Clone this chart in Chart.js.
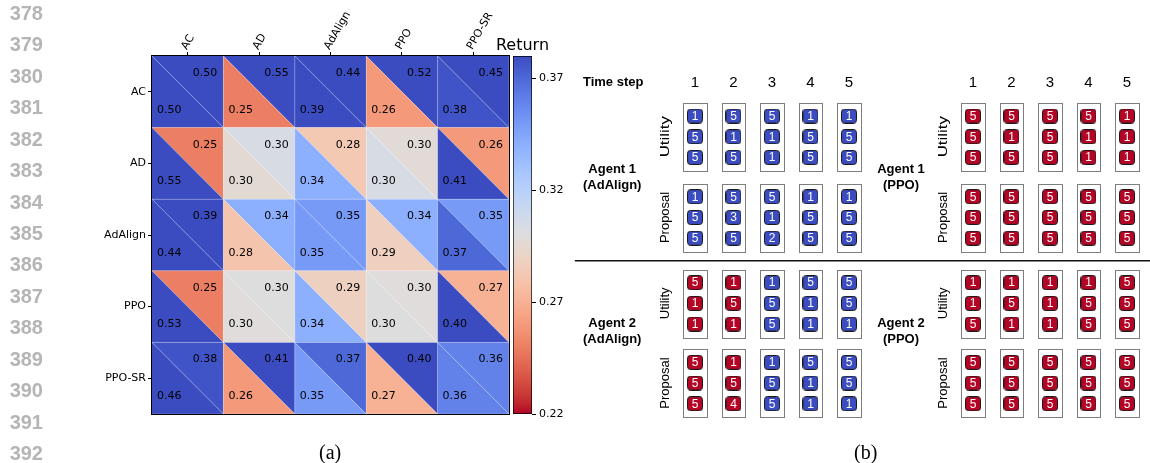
<!DOCTYPE html>
<html>
<head>
<meta charset="utf-8">
<title>Pairwise returns and negotiation rollouts</title>
<script src="https://cdn.jsdelivr.net/npm/chart.js@4.4.1/dist/chart.umd.min.js"></script>
<style>
  html, body { margin: 0; padding: 0; background: #fff; }
  body { position: relative; width: 1150px; height: 463px; overflow: hidden; }
  canvas { position: absolute; top: 0; }
  #heat { left: 0; }
  #bar { left: 470px; }
  #game { left: 560px; }
  .lineno { position: absolute; left: 0; width: 43px; text-align: right; font: bold 20px "Liberation Sans", Arial, sans-serif; color: #b5b5b5; line-height: 20px; }
  .caption { position: absolute; top: 441px; font: 20px "Liberation Serif", "Times New Roman", serif; line-height: 22px; }
</style>
</head>
<body>
<canvas id="heat" width="512" height="463"></canvas>
<canvas id="bar" width="110" height="463"></canvas>
<canvas id="game" width="590" height="463"></canvas>
<div id="gutter"></div>
<div class="caption" style="left:319px">(a)</div>
<div class="caption" style="left:854px">(b)</div>
<script>
// ---- panel (a): returns, row agent vs column agent ----
const models = ["AC", "AD", "AdAlign", "PPO", "PPO-SR"];
// upper-right triangle of each cell
const upperReturn = [
  [0.50, 0.55, 0.44, 0.52, 0.45],
  [0.25, 0.304, 0.283, 0.297, 0.26],
  [0.39, 0.34, 0.35, 0.34, 0.35],
  [0.25, 0.300, 0.288, 0.299, 0.27],
  [0.377, 0.41, 0.37, 0.40, 0.36],
];
// lower-left triangle of each cell
const lowerReturn = [
  [0.50, 0.25, 0.39, 0.26, 0.377],
  [0.55, 0.296, 0.34, 0.304, 0.41],
  [0.44, 0.28, 0.35, 0.287, 0.37],
  [0.53, 0.299, 0.34, 0.300, 0.40],
  [0.46, 0.26, 0.35, 0.27, 0.36],
];
const returnMin = 0.22, returnMax = 0.38;
const returnTicks = [0.22, 0.27, 0.32, 0.37];

// ---- panel (b): items per time step, top to bottom ----
const timeSteps = [1, 2, 3, 4, 5];
const a1AdAlignUtility = [[1, 5, 5], [5, 1, 5], [5, 1, 1], [1, 5, 5], [1, 5, 5]];
const a1AdAlignProposal = [[1, 5, 5], [5, 3, 5], [5, 1, 2], [1, 5, 5], [1, 5, 5]];
const a1AdAlignColors = ["blue", "blue", "blue", "blue", "blue"];
const a2AdAlignUtility = [[5, 1, 1], [1, 5, 1], [1, 5, 5], [5, 1, 1], [5, 5, 1]];
const a2AdAlignProposal = [[5, 5, 5], [1, 5, 4], [1, 5, 5], [5, 1, 1], [5, 5, 1]];
const a2AdAlignColors = ["red", "red", "blue", "blue", "blue"];
const a1PpoUtility = [[5, 5, 5], [5, 1, 5], [5, 5, 5], [5, 1, 1], [1, 1, 1]];
const a1PpoProposal = [[5, 5, 5], [5, 5, 5], [5, 5, 5], [5, 5, 5], [5, 5, 5]];
const a1PpoColors = ["red", "red", "red", "red", "red"];
const a2PpoUtility = [[1, 1, 5], [1, 5, 1], [1, 1, 1], [1, 5, 5], [5, 5, 5]];
const a2PpoProposal = [[5, 5, 5], [5, 5, 5], [5, 5, 5], [5, 5, 5], [5, 5, 5]];
const a2PpoColors = ["red", "red", "red", "red", "red"];

const lineNumbers = [378, 379, 380, 381, 382, 383, 384, 385, 386, 387, 388, 389, 390, 391, 392];

// line numbers of the paper page
const gutter = document.getElementById("gutter");
lineNumbers.forEach((n, i) => {
  const d = document.createElement("div");
  d.className = "lineno";
  d.style.top = (3 + i * 31.43) + "px";
  d.textContent = n;
  gutter.appendChild(d);
});

// matplotlib coolwarm, 33 stops
const coolwarm = [
  [59,76,192],[68,90,204],[77,104,215],[87,117,225],[98,130,234],[108,142,241],[119,154,247],
  [130,165,251],[141,176,254],[152,185,255],[163,194,255],[174,201,253],[184,208,249],[194,213,244],
  [204,217,238],[213,219,230],[221,221,221],[229,216,209],[236,211,198],[241,204,185],[245,196,173],
  [247,187,160],[247,177,148],[247,166,135],[244,154,123],[241,141,111],[236,127,99],[229,112,88],
  [222,96,77],[213,80,66],[203,62,56],[192,40,47],[180,4,38]
];
function returnColor(v) {
  const t = Math.min(1, Math.max(0, (v - returnMin) / (returnMax - returnMin)));
  const s = (1 - t) * 32;            // reversed: high return = blue
  const i = Math.min(31, Math.floor(s)), f = s - i;
  const a = coolwarm[i], b = coolwarm[i + 1];
  const c = a.map((ch, k) => Math.round(ch + (b[k] - ch) * f));
  return `rgb(${c[0]},${c[1]},${c[2]})`;
}

const mplFont = { family: "DejaVu Sans", size: 11 };

function tri(ctx, ax, ay, bx, by, cx, cy) {
  ctx.beginPath();
  ctx.moveTo(ax, ay); ctx.lineTo(bx, by); ctx.lineTo(cx, cy);
  ctx.closePath();
  ctx.fill();
}

const cellPlugin = {
  id: "cells",
  beforeDatasetsDraw(chart) {
    const { ctx, chartArea: a, scales: { x, y } } = chart;
    ctx.save();
    models.forEach((_, r) => models.forEach((_, c) => {
      const x0 = x.getPixelForValue(c - 0.5), x1 = x.getPixelForValue(c + 0.5);
      const y0 = y.getPixelForValue(r - 0.5), y1 = y.getPixelForValue(r + 0.5);
      ctx.fillStyle = returnColor(upperReturn[r][c]);
      tri(ctx, x0, y0, x1, y0, x1, y1);
      ctx.fillStyle = returnColor(lowerReturn[r][c]);
      tri(ctx, x0, y0, x0, y1, x1, y1);
    }));
    // faint white seams
    ctx.strokeStyle = "rgba(255,255,255,0.3)";
    ctx.lineWidth = 0.8;
    models.forEach((_, r) => models.forEach((_, c) => {
      const x0 = x.getPixelForValue(c - 0.5), x1 = x.getPixelForValue(c + 0.5);
      const y0 = y.getPixelForValue(r - 0.5), y1 = y.getPixelForValue(r + 0.5);
      ctx.beginPath();
      ctx.moveTo(x0, y0); ctx.lineTo(x1, y1);
      ctx.moveTo(x1, y0); ctx.lineTo(x1, y1); ctx.lineTo(x0, y1);
      ctx.stroke();
    }));
    // annotations
    ctx.font = '11px "DejaVu Sans"';
    ctx.fillStyle = "#000";
    ctx.textBaseline = "middle";
    models.forEach((_, r) => models.forEach((_, c) => {
      ctx.textAlign = "right";
      ctx.fillText(upperReturn[r][c].toFixed(2), x.getPixelForValue(c + 0.415), y.getPixelForValue(r - 0.26));
      ctx.textAlign = "left";
      ctx.fillText(lowerReturn[r][c].toFixed(2), x.getPixelForValue(c - 0.43), y.getPixelForValue(r + 0.25));
    }));
    ctx.strokeStyle = "#000";
    ctx.lineWidth = 1;
    ctx.strokeRect(a.left - 0.5, a.top - 0.5, a.width + 1, a.height + 1);
    ctx.restore();
  }
};

new Chart(document.getElementById("heat"), {
  type: "scatter",
  data: { datasets: [{ data: [], pointRadius: 0 }] },
  options: {
    responsive: false,
    animation: false,
    events: [],
    layout: { autoPadding: false, padding: { right: 3, bottom: 49 } },
    plugins: { legend: { display: false }, tooltip: { enabled: false } },
    scales: {
      x: {
        type: "linear", position: "top", min: -0.5, max: 4.5,
        afterBuildTicks: s => { s.ticks = models.map((m, i) => ({ value: i })); },
        afterFit: s => { s.height = 56; },
        ticks: { callback: v => models[v], minRotation: 60, maxRotation: 60, padding: 0, labelOffset: 8, color: "#000", font: mplFont },
        grid: { drawOnChartArea: false, tickLength: 4, color: "#000" },
        border: { display: false },
      },
      y: {
        type: "linear", reverse: true, min: -0.5, max: 4.5,
        afterBuildTicks: s => { s.ticks = models.map((m, i) => ({ value: i })); },
        afterFit: s => { s.width = 152; },
        ticks: { callback: v => models[v], padding: 2, color: "#000", font: mplFont },
        grid: { drawOnChartArea: false, tickLength: 4, color: "#000" },
        border: { display: false },
      },
    },
  },
  plugins: [cellPlugin],
});

// ---- colour bar ----
const titlePlugin = {
  id: "cbTitle",
  afterDraw(chart) {
    const { ctx, chartArea: a } = chart;
    ctx.save();
    ctx.font = '16px "DejaVu Sans"';
    ctx.fillStyle = "#000";
    ctx.textAlign = "center";
    ctx.textBaseline = "middle";
    ctx.fillText("Return", (a.left + a.right) / 2, a.top - 10);
    ctx.restore();
  }
};

new Chart(document.getElementById("bar"), {
  type: "bar",
  data: {
    labels: ["Return"],
    datasets: [{
      data: [[returnMin, returnMax]],
      backgroundColor: c => {
        const chart = c.chart, y = chart.scales.y;
        if (!chart.chartArea || !y) return "#ddd";
        const g = chart.ctx.createLinearGradient(0, y.getPixelForValue(returnMin), 0, y.getPixelForValue(returnMax));
        for (let k = 0; k <= 32; k++) {
          g.addColorStop(k / 32, returnColor(returnMin + (k / 32) * (returnMax - returnMin)));
        }
        return g;
      },
      borderColor: "#000",
      borderWidth: 1,
      borderSkipped: false,
      barPercentage: 1,
      categoryPercentage: 1,
    }],
  },
  options: {
    responsive: false,
    animation: false,
    events: [],
    layout: { autoPadding: false, padding: { left: 43, top: 56, bottom: 49 } },
    plugins: { legend: { display: false }, tooltip: { enabled: false } },
    scales: {
      x: { display: false },
      y: {
        position: "right", min: returnMin, max: returnMax,
        afterBuildTicks: s => { s.ticks = returnTicks.map(v => ({ value: v })); },
        afterFit: s => { s.width = 48; },
        ticks: { callback: v => v.toFixed(2), padding: 3, color: "#000", font: mplFont },
        grid: { drawOnChartArea: false, tickLength: 4, color: "#000" },
        border: { display: false },
      },
    },
  },
  plugins: [titlePlugin],
});

// ---- panel (b) ----
const groupShift = [0, 7.22];                   // AdAlign columns, PPO columns
const blockTop = [[0, 3.9], [8.05, 11.9]];      // Utility / Proposal box rows per agent
const agentLabelY = [2.95, 10.4];
const agentLabelDx = [-2.15, -1.87];
const utilityStretch = [1.3, 1];

const panels = [
  { name: ["Agent 1", "(AdAlign)"], group: 0, row: 0, blocks: [a1AdAlignUtility, a1AdAlignProposal], colors: a1AdAlignColors },
  { name: ["Agent 2", "(AdAlign)"], group: 0, row: 1, blocks: [a2AdAlignUtility, a2AdAlignProposal], colors: a2AdAlignColors },
  { name: ["Agent 1", "(PPO)"], group: 1, row: 0, blocks: [a1PpoUtility, a1PpoProposal], colors: a1PpoColors },
  { name: ["Agent 2", "(PPO)"], group: 1, row: 1, blocks: [a2PpoUtility, a2PpoProposal], colors: a2PpoColors },
];

const tokens = panels.flatMap(p => p.blocks.flatMap((blk, b) => blk.flatMap((vals, ti) =>
  vals.map((v, k) => ({ x: timeSteps[ti] + groupShift[p.group], y: blockTop[p.row][b] + k, v, col: p.colors[ti] })))));

const tokenFill = { blue: "#3b4cc0", red: "#b40426" };
function tokenImage(fill) {
  const c = document.createElement("canvas");
  c.width = 16; c.height = 15;
  const g = c.getContext("2d");
  g.beginPath();
  g.roundRect(0.5, 0.5, 15, 14, 3);
  g.fillStyle = fill;
  g.fill();
  g.strokeStyle = "#1a1a1a";
  g.lineWidth = 1;
  g.stroke();
  return c;
}
const tokenImg = { blue: tokenImage(tokenFill.blue), red: tokenImage(tokenFill.red) };

const boxPlugin = {
  id: "boxes",
  beforeDatasetsDraw(chart) {
    const { ctx, scales: { x, y } } = chart;
    ctx.save();
    ctx.fillStyle = "#fff";
    ctx.strokeStyle = "#7d7d7d";
    ctx.lineWidth = 1;
    panels.forEach(p => p.blocks.forEach((blk, b) => blk.forEach((vals, ti) => {
      const cx = timeSteps[ti] + groupShift[p.group];
      const top = blockTop[p.row][b];
      const l = Math.round(x.getPixelForValue(cx - 0.3)) + 0.5, r = Math.round(x.getPixelForValue(cx + 0.3)) + 0.5;
      const t = Math.round(y.getPixelForValue(top - 0.63)) + 0.5, btm = Math.round(y.getPixelForValue(top + vals.length - 1 + 0.66)) + 0.5;
      ctx.fillRect(l, t, r - l, btm - t);
      ctx.strokeRect(l, t, r - l, btm - t);
    })));
    // divider between the two agents
    const yDiv = y.getPixelForValue(((blockTop[0][1] + 2.66) + (blockTop[1][0] - 0.63)) / 2);
    ctx.strokeStyle = "#111";
    ctx.lineWidth = 1.4;
    ctx.beginPath();
    ctx.moveTo(x.getPixelForValue(timeSteps[0] - 3.12), yDiv);
    ctx.lineTo(x.right, yDiv);
    ctx.stroke();
    ctx.restore();
  },
  afterDatasetsDraw(chart) {
    const { ctx, scales: { x, y } } = chart;
    ctx.save();
    ctx.textBaseline = "middle";
    // numbers inside the items
    const meta = chart.getDatasetMeta(0);
    ctx.font = '12px "Liberation Sans"';
    ctx.fillStyle = "#fff";
    ctx.textAlign = "center";
    meta.data.forEach((pt, i) => ctx.fillText(String(tokens[i].v), pt.x, pt.y + 0.5));
    ctx.fillStyle = "#000";
    // time step header
    const yHead = y.getPixelForValue(-1.62);
    ctx.font = 'bold 13px "Liberation Sans"';
    ctx.textAlign = "left";
    ctx.fillText("Time step", x.getPixelForValue(timeSteps[0] - 2.91), yHead);
    ctx.font = '15px "Liberation Sans"';
    ctx.textAlign = "center";
    groupShift.forEach(g => timeSteps.forEach(t => ctx.fillText(String(t), x.getPixelForValue(t + g), yHead)));
    // side labels and agent names
    panels.forEach(p => {
      ["Utility", "Proposal"].forEach((lab, b) => {
        const cx = x.getPixelForValue(timeSteps[0] + groupShift[p.group] - 0.78);
        const cy = y.getPixelForValue(blockTop[p.row][b] + 1);
        ctx.save();
        ctx.translate(cx, cy);
        ctx.rotate(-Math.PI / 2);
        if (b === 0) ctx.scale(utilityStretch[p.row], 1);
        ctx.font = '13px "Liberation Sans"';
        ctx.textAlign = "center";
        ctx.fillText(lab, 0, 0);
        ctx.restore();
      });
      const ax = x.getPixelForValue(timeSteps[0] + groupShift[p.group] + agentLabelDx[p.group]);
      const ay = y.getPixelForValue(agentLabelY[p.row]);
      ctx.font = 'bold 13px "Liberation Sans"';
      ctx.textAlign = "center";
      ctx.fillText(p.name[0], ax, ay - 8);
      ctx.fillText(p.name[1], ax, ay + 8);
    });
    ctx.restore();
  }
};

new Chart(document.getElementById("game"), {
  type: "scatter",
  data: {
    datasets: [{
      data: tokens,
      pointRadius: 8,
      pointStyle: c => tokenImg[(c.raw && c.raw.col) || "blue"],
      clip: false,
    }],
  },
  options: {
    responsive: false,
    animation: false,
    events: [],
    layout: { autoPadding: false },
    plugins: { legend: { display: false }, tooltip: { enabled: false } },
    scales: {
      x: { type: "linear", display: false, min: -2.506, max: 12.818 },
      y: { type: "linear", display: false, reverse: true, min: -5.604, max: 16.763 },
    },
  },
  plugins: [boxPlugin],
});
</script>
</body>
</html>
